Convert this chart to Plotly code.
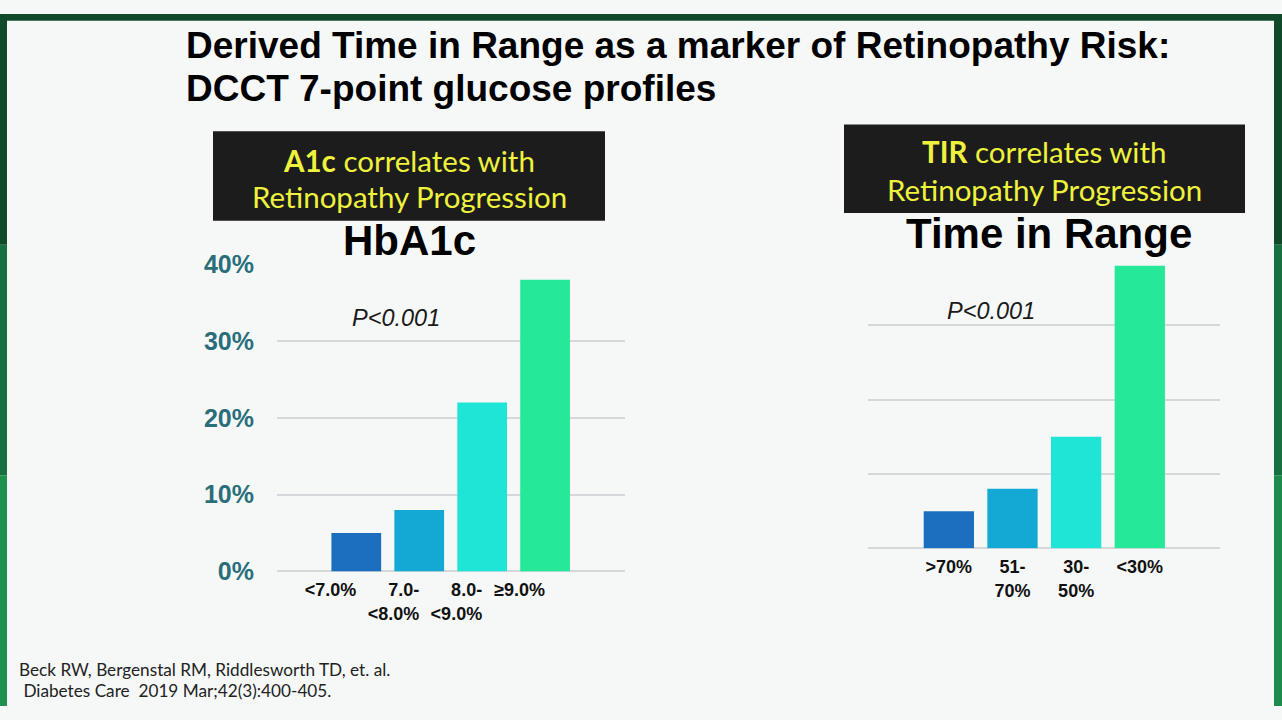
import plotly.graph_objects as go

W, H = 1282, 720

# ---- data ----
hba1c_categories = ["<7.0%", "7.0-<br><8.0%", "8.0-<br><9.0%", "≥9.0%"]
hba1c_values = [5.0, 8.0, 22.0, 38.0]

tir_categories = [">70%", "51-<br>70%", "30-<br>50%", "<30%"]
tir_values = [5.0, 8.0, 15.0, 38.0]

y_tick_vals = [0, 10, 20, 30, 40]
y_tick_text = ["0%", "10%", "20%", "30%", "40%"]

p_value_text = "P<0.001"
main_title_lines = ["Derived Time in Range as a marker of Retinopathy Risk:",
                    "DCCT 7-point glucose profiles"]
left_box_lines = ["<b>A1c</b> correlates with", "Retinopathy Progression"]
right_box_lines = ["<b>TIR</b> correlates with", "Retinopathy Progression"]
left_panel_title = "HbA1c"
right_panel_title = "Time in Range"
citation_lines = ["Beck RW, Bergenstal RM, Riddlesworth TD, et. al.",
                  " Diabetes Care  2019 Mar;42(3):400-405."]

# ---- style ----
bar_colors = ["#1b6fbe", "#14a8d5", "#1fe5d6", "#25e898"]
grid_color = "#d4d8da"
tick_teal = "#2a6e7a"
yellow = "#eef23c"
box_fill = "#1c1c1c"


def px(x):
    return x / W


def py(y):
    return 1 - y / H


fig = go.Figure()
fig.add_trace(go.Bar(x=hba1c_categories, y=hba1c_values,
                     marker=dict(color=bar_colors, line_width=0),
                     xaxis="x", yaxis="y", hoverinfo="skip", showlegend=False))
fig.add_trace(go.Bar(x=tir_categories, y=tir_values,
                     marker=dict(color=bar_colors, line_width=0),
                     xaxis="x2", yaxis="y2", hoverinfo="skip", showlegend=False))

xfont = dict(family="Arial, Liberation Sans, sans-serif", size=18, color="#111111", weight="bold")

fig.update_layout(
    width=W, height=H, autosize=False,
    margin=dict(l=0, r=0, t=0, b=0),
    paper_bgcolor="#f6f8f8", plot_bgcolor="rgba(0,0,0,0)",
    bargap=0.21,
    xaxis=dict(domain=[px(277), px(625)], anchor="y", type="category",
               range=[-1.26, 4.27], showgrid=False, zeroline=False, showline=False,
               ticklabelposition="outside left", tickfont=xfont, ticklabelstandoff=6),
    yaxis=dict(domain=[py(580), py(260)], anchor="x", range=[0, 40.05],
               tickvals=y_tick_vals, ticktext=y_tick_text,
               showgrid=True, gridcolor=grid_color, gridwidth=2,
               zeroline=True, zerolinecolor=grid_color, zerolinewidth=2,
               showline=False, ticklabelstandoff=22,
               tickfont=dict(family="Arial, Liberation Sans, sans-serif", size=25,
                             color=tick_teal, weight="bold")),
    xaxis2=dict(domain=[px(868), px(1220)], anchor="y2", type="category",
                range=[-1.27, 4.26], showgrid=False, zeroline=False, showline=False,
                tickfont=xfont, ticklabelstandoff=6),
    yaxis2=dict(domain=[py(556), py(246)], anchor="x2", range=[0, 40.05],
                tickvals=y_tick_vals, showticklabels=False,
                showgrid=True, gridcolor=grid_color, gridwidth=2,
                zeroline=True, zerolinecolor=grid_color, zerolinewidth=2,
                showline=False),
)

shapes = []
# green frame
for (x0, x1, y0, y1, c) in [
    (0, W, 0, 7, "#114a2b"),
    (0, 7, 0, 240, "#114a2b"), (0, 7, 240, 480, "#177040"), (0, 7, 480, H, "#20904f"),
    (1274, W, 0, 240, "#114a2b"), (1274, W, 240, 480, "#177040"), (1274, W, 480, H, "#1e8a4b"),
]:
    shapes.append(dict(type="rect", xref="paper", yref="paper",
                       x0=px(x0), x1=px(x1), y0=py(y1), y1=py(y0),
                       fillcolor=c, line_width=0, layer="above"))
# black boxes
shapes.append(dict(type="rect", xref="paper", yref="paper",
                   x0=px(213), x1=px(605), y0=py(215), y1=py(122),
                   fillcolor=box_fill, line_width=0))
shapes.append(dict(type="rect", xref="paper", yref="paper",
                   x0=px(844), x1=px(1245), y0=py(207), y1=py(115),
                   fillcolor=box_fill, line_width=0))
fig.update_layout(shapes=shapes)

ann = []


def add_text(text, x, y, size, color="#000000", family="Arial, Liberation Sans, sans-serif",
             xanchor="center", weight="normal", style="normal"):
    ann.append(dict(text=text, x=px(x), y=py(y), xref="paper", yref="paper",
                    xanchor=xanchor, yanchor="middle", showarrow=False,
                    font=dict(size=size, color=color, family=family, weight=weight, style=style)))


add_text(main_title_lines[0], 184, 33, 37, xanchor="left", weight="bold")
add_text(main_title_lines[1], 184, 77, 37, xanchor="left", weight="bold")

box_font = "Lato, Carlito, sans-serif"
add_text(left_box_lines[0], 409, 152, 29.5, color=yellow, family=box_font)
add_text(left_box_lines[1], 409, 190, 29.5, color=yellow, family=box_font)
add_text(right_box_lines[0], 1044, 143, 29.5, color=yellow, family=box_font)
add_text(right_box_lines[1], 1044, 183, 29.5, color=yellow, family=box_font)

add_text(left_panel_title, 409, 236, 42, weight="bold")
add_text(right_panel_title, 1049, 228, 42, weight="bold")

add_text(p_value_text, 396, 316, 23.5, color="#1a1a1a", style="italic")
add_text(p_value_text, 991, 309, 23.5, color="#1a1a1a", style="italic")

add_text(citation_lines[0], 17, 682, 17.2, color="#222222", family=box_font, xanchor="left")
add_text(citation_lines[1], 17, 704, 17.2, color="#222222", family=box_font, xanchor="left")

fig.update_layout(annotations=ann)

fig.write_html(
    "out.html",
    config={"responsive": False, "displayModeBar": False},
    post_script=(
        "document.documentElement.style.margin='0';"
        "document.documentElement.style.padding='0';"
        "document.body.style.margin='0';document.body.style.padding='0';"
        "document.body.style.overflow='hidden';"
    ),
)
